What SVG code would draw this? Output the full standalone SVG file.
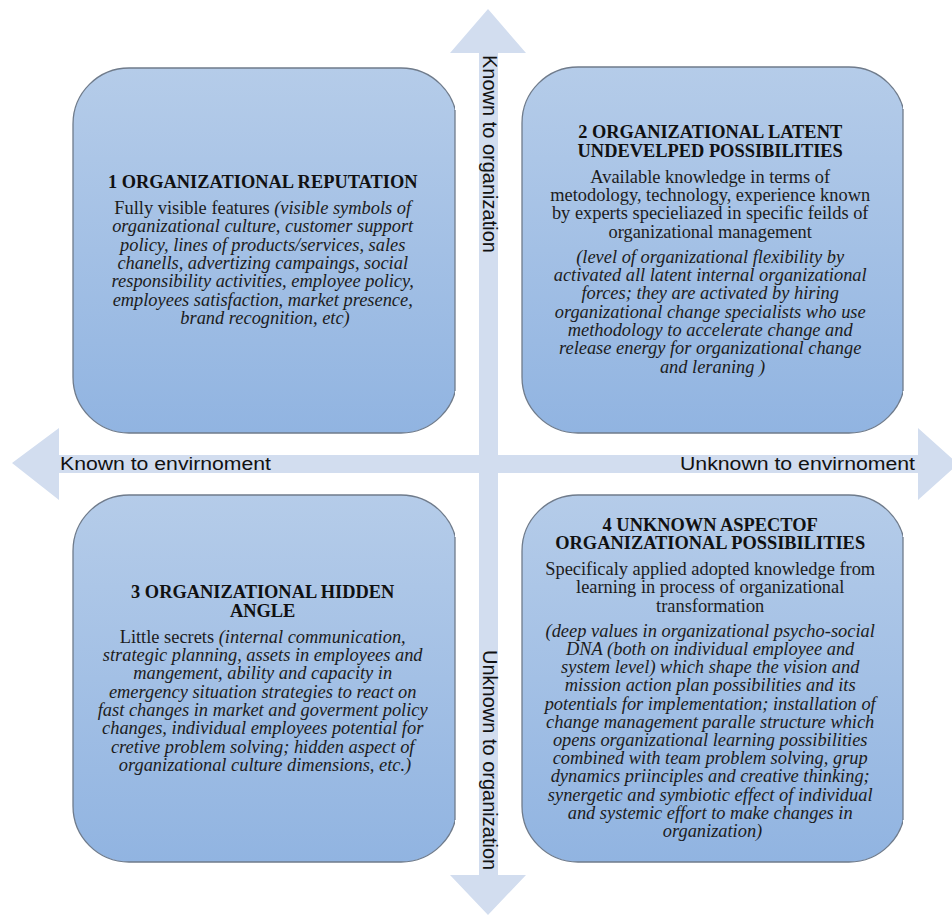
<svg xmlns="http://www.w3.org/2000/svg" width="952" height="917" viewBox="0 0 952 917">
<style>
.ax{fill:#d2ddef;}
.axl{font-family:"Liberation Sans",Arial,sans-serif;fill:#111;}
.box{stroke:#6f7b8b;stroke-width:1.3;fill:url(#bg);}
.t{font-family:"Liberation Serif","Times New Roman",serif;font-size:18.4px;fill:#1c1c1c;text-anchor:middle;}
.b{font-weight:bold;fill:#111;}
.i{font-style:italic;}
</style>
<defs>
<linearGradient id="bg" x1="0" y1="0" x2="0" y2="1">
<stop offset="0" stop-color="#b5cce9"/>
<stop offset="1" stop-color="#91b4e1"/>
</linearGradient>
<clipPath id="cl"><rect x="0" y="0" width="455" height="917"/></clipPath>
<clipPath id="cr"><rect x="460" y="0" width="443" height="917"/></clipPath>
</defs>
<rect width="952" height="917" fill="#fff"/>
<g id="connectors">
<polygon class="ax" points="12,463 59,428 59,455 918,455 918,428 958,464 918,500 918,473 59,473 59,500"/>
<polygon class="ax" points="488,9 526,53 498,53 498,875 526,875 488,915 450,875 479,875 479,53 450,53"/>
<text class="axl" x="482.5" y="55" font-size="20" transform="rotate(90 482.5 55)">Known to organization</text>
<text class="axl" x="482.5" y="650" font-size="20" transform="rotate(90 482.5 650)">Unknown to organization</text>
<text class="axl" x="60" y="469.5" font-size="18" textLength="211" lengthAdjust="spacingAndGlyphs">Known to envirnoment</text>
<text class="axl" x="680" y="470" font-size="18" textLength="235" lengthAdjust="spacingAndGlyphs">Unknown to envirnoment</text>
</g>
<g id="node1">
<rect class="box" x="73" y="68" width="384" height="365" rx="56" clip-path="url(#cl)"/>
<line x1="455" y1="110" x2="455" y2="391" stroke="#6f7b8b" stroke-width="1.3"/>
<text class="t">
<tspan class="b" x="265" y="188">1 ORGANIZATIONAL REPUTATION</tspan>
<tspan x="265" y="214">Fully visible features <tspan class="i">(visible symbols of</tspan></tspan>
<tspan class="i" x="265" y="232.3">organizational culture, customer support</tspan>
<tspan class="i" x="265" y="250.6">policy, lines of products/services, sales</tspan>
<tspan class="i" x="265" y="269">chanells, advertizing campaings, social</tspan>
<tspan class="i" x="265" y="287.3">responsibility activities, employee policy,</tspan>
<tspan class="i" x="265" y="305.6">employees satisfaction, market presence,</tspan>
<tspan class="i" x="265" y="324">brand recognition, etc)</tspan>
</text>
</g>
<g id="node2">
<rect class="box" x="522" y="67" width="383" height="366" rx="56" clip-path="url(#cr)"/>
<line x1="903" y1="109" x2="903" y2="391" stroke="#6f7b8b" stroke-width="1.3"/>
<text class="t">
<tspan class="b" x="712.5" y="138.3">2 ORGANIZATIONAL LATENT</tspan>
<tspan class="b" x="712.5" y="156.7">UNDEVELPED POSSIBILITIES</tspan>
<tspan x="712.5" y="182.7">Available knowledge in terms of</tspan>
<tspan x="712.5" y="201">metodology, technology, experience known</tspan>
<tspan x="712.5" y="219.3">by experts specieliazed in specific feilds of</tspan>
<tspan x="712.5" y="237.6">organizational management</tspan>
<tspan class="i" x="712.5" y="262.7">(level of organizational flexibility by</tspan>
<tspan class="i" x="712.5" y="281">activated all latent internal organizational</tspan>
<tspan class="i" x="712.5" y="299.3">forces; they are activated by hiring</tspan>
<tspan class="i" x="712.5" y="317.6">organizational change specialists who use</tspan>
<tspan class="i" x="712.5" y="336">methodology to accelerate change and</tspan>
<tspan class="i" x="712.5" y="354.3">release energy for organizational change</tspan>
<tspan class="i" x="712.5" y="372.6">and leraning )</tspan>
</text>
</g>
<g id="node3">
<rect class="box" x="73" y="495" width="384" height="367" rx="56" clip-path="url(#cl)"/>
<line x1="455" y1="537" x2="455" y2="820" stroke="#6f7b8b" stroke-width="1.3"/>
<text class="t">
<tspan class="b" x="265" y="598.3">3 ORGANIZATIONAL HIDDEN</tspan>
<tspan class="b" x="265" y="616.7">ANGLE</tspan>
<tspan x="265" y="642.7">Little secrets <tspan class="i">(internal communication,</tspan></tspan>
<tspan class="i" x="265" y="661">strategic planning, assets in employees and</tspan>
<tspan class="i" x="265" y="679.3">mangement, ability and capacity in</tspan>
<tspan class="i" x="265" y="697.6">emergency situation strategies to react on</tspan>
<tspan class="i" x="265" y="716">fast changes in market and goverment policy</tspan>
<tspan class="i" x="265" y="734.3">changes, individual employees potential for</tspan>
<tspan class="i" x="265" y="752.6">cretive problem solving; hidden aspect of</tspan>
<tspan class="i" x="265" y="771">organizational culture dimensions, etc.)</tspan>
</text>
</g>
<g id="node4">
<rect class="box" x="522" y="495" width="383" height="367" rx="56" clip-path="url(#cr)"/>
<line x1="903" y1="537" x2="903" y2="820" stroke="#6f7b8b" stroke-width="1.3"/>
<text class="t">
<tspan class="b" x="712.5" y="531">4 UNKNOWN ASPECTOF</tspan>
<tspan class="b" x="712.5" y="549.3">ORGANIZATIONAL POSSIBILITIES</tspan>
<tspan x="712.5" y="575">Specificaly applied adopted knowledge from</tspan>
<tspan x="712.5" y="593.3">learning in process of organizational</tspan>
<tspan x="712.5" y="611.6">transformation</tspan>
<tspan class="i" x="712.5" y="636.7">(deep values in organizational psycho-social</tspan>
<tspan class="i" x="712.5" y="654.9">DNA (both on individual employee and</tspan>
<tspan class="i" x="712.5" y="673.1">system level) which shape the vision and</tspan>
<tspan class="i" x="712.5" y="691.3">mission action plan possibilities and its</tspan>
<tspan class="i" x="712.5" y="709.5">potentials for implementation; installation of</tspan>
<tspan class="i" x="712.5" y="727.7">change management paralle structure which</tspan>
<tspan class="i" x="712.5" y="745.9">opens organizational learning possibilities</tspan>
<tspan class="i" x="712.5" y="764.1">combined with team problem solving, grup</tspan>
<tspan class="i" x="712.5" y="782.3">dynamics priinciples and creative thinking;</tspan>
<tspan class="i" x="712.5" y="800.5">synergetic and symbiotic effect of individual</tspan>
<tspan class="i" x="712.5" y="818.7">and systemic effort to make changes in</tspan>
<tspan class="i" x="712.5" y="836.9">organization)</tspan>
</text>
</g>
</svg>
